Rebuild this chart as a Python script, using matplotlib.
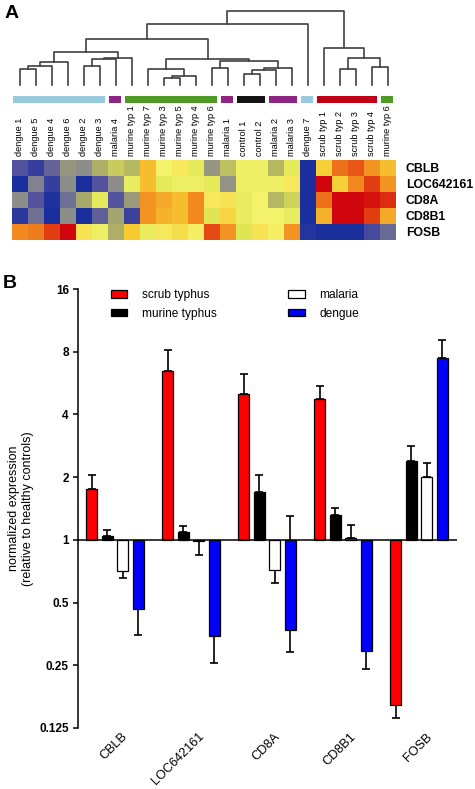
import numpy as np
import matplotlib.pyplot as plt
from matplotlib.colors import LinearSegmentedColormap
from matplotlib.patches import Patch

plt.rcParams['font.family'] = ['Liberation Sans', 'DejaVu Sans']

# ---------------- panel A data ----------------
samples = ['dengue 1', 'dengue 5', 'dengue 4', 'dengue 6', 'dengue 2', 'dengue 3', 'malaria 4',
           'murine typ 1', 'murine typ 7', 'murine typ 3', 'murine typ 5', 'murine typ 4',
           'murine typ 6', 'malaria 1', 'control 1', 'control 2', 'malaria 2', 'malaria 3',
           'dengue 7', 'scrub typ 1', 'scrub typ 2', 'scrub typ 3', 'scrub typ 4', 'murine typ 6']
genes = ['CBLB', 'LOC642161', 'CD8A', 'CD8B1', 'FOSB']

# standardized expression (-3 blue ... +3 red)
z_cblb = [-2.0, -2.5, -1.7, -0.8, -1.0, -0.3, 0.0, -0.2, 1.5, 0.7, 0.9, 0.4,
          -0.8, -0.1, 0.6, 0.6, -0.2, 0.4, -3.0, 1.3, 2.2, 2.4, 1.9, 1.5]
z_loc = [-3.0, -1.2, -2.5, -1.0, -3.0, -2.0, -1.0, 0.5, 1.5, 0.4, 0.6, 0.6,
         0.4, -0.9, 0.6, 0.6, 0.6, 0.9, -3.0, 3.0, 1.3, 2.0, 2.6, 1.9]
z_cd8a = [-1.0, -2.0, -2.9, -1.5, -0.4, 0.4, -2.0, -0.7, 1.9, 1.7, 1.5, 2.0,
          0.9, 1.0, 0.5, 0.7, -0.2, 0.1, -3.0, 2.2, 3.0, 3.0, 2.9, 2.7]
z_cd8b1 = [-2.7, -1.5, -3.0, -1.0, -3.0, -1.8, -0.5, -2.4, 1.9, 1.6, 1.5, 2.0,
           0.3, 1.2, 0.5, 0.7, 0.7, 0.5, -3.0, 1.6, 3.0, 3.0, 2.6, 1.7]
z_fosb = [2.0, 2.1, 2.6, 3.0, 1.0, 0.6, -0.3, 1.4, 0.5, 0.9, 1.1, 0.8,
          2.5, 1.9, 0.3, 1.0, 0.8, 1.9, -2.8, -3.0, -3.0, -3.0, -2.2, -1.6]

# dendrogram: (height, left, right), leaves are column indices
tree = (74,
        (61,
         (45.7,
          (32.7,
           (23, (19, (15.7, 0, 1), 2), 3),
           (26.7, (25.7, (19, 4, 5), 6), 7)),
          (25.7,
           (16, 8, (9, (6.7, 9, 10), 11)),
           (24, (17.3, 12, 13), (16.7, (15, (11, 14, 15), 16), 17)))),
         18),
        (36.7, 19, (26.7, (16, 20, 21), (17.7, 22, 23))))

group_colors = {'dengue': '#98CADD', 'malaria': '#8E2585', 'murine': '#4F9A25',
                'control': '#141414', 'scrub': '#BF0016'}

# ---------------- panel B data ----------------
bar_genes = ['CBLB', 'LOC642161', 'CD8A', 'CD8B1', 'FOSB']
series = ['scrub typhus', 'murine typhus', 'malaria', 'dengue']
scrub = [1.76, 6.43, 5.01, 4.72, 0.161]
murine = [1.04, 1.09, 1.69, 1.32, 2.40]
malaria = [0.71, 0.99, 0.718, 1.02, 2.01]
dengue = [0.466, 0.345, 0.371, 0.292, 7.50]
# error bar ends (low, high)
scrub_lo = [1.76, 6.43, 5.01, 4.72, 0.139]
scrub_hi = [2.04, 8.17, 6.25, 5.45, 0.161]
murine_lo = [1.04, 1.09, 1.69, 1.32, 2.40]
murine_hi = [1.11, 1.16, 2.05, 1.42, 2.81]
malaria_lo = [0.657, 0.85, 0.62, 1.02, 2.01]
malaria_hi = [0.71, 0.99, 0.718, 1.18, 2.34]
dengue_lo = [0.351, 0.256, 0.289, 0.240, 7.50]
dengue_hi = [0.466, 0.345, 1.30, 0.292, 9.12]
bar_colors = ['#FF0000', '#000000', '#FFFFFF', '#0000FF']

W, H = 475, 789
fig = plt.figure(figsize=(W / 100, H / 100), dpi=100)


def box(l, t, r, b):
    return [l / W, 1 - b / H, (r - l) / W, (b - t) / H]


cmap = LinearSegmentedColormap.from_list('hm', [
    (0.00, (0.10, 0.18, 0.62)),
    (0.15, (0.30, 0.30, 0.62)),
    (0.33, (0.55, 0.55, 0.55)),
    (0.45, (0.68, 0.68, 0.40)),
    (0.55, (0.88, 0.90, 0.33)),
    (0.62, (0.96, 0.95, 0.42)),
    (0.73, (0.97, 0.80, 0.20)),
    (0.83, (0.95, 0.55, 0.12)),
    (0.92, (0.90, 0.28, 0.08)),
    (1.00, (0.82, 0.02, 0.05))])

# dendrogram
ax_d = fig.add_axes(box(12, 11, 396, 85))


def draw_tree(ax, node):
    if isinstance(node, int):
        return node + 0.5, 0.0
    h, left, right = node
    xl, hl = draw_tree(ax, left)
    xr, hr = draw_tree(ax, right)
    ax.plot([xl, xl, xr, xr], [hl, h, h, hr], color='#404040', lw=1.2, clip_on=False)
    return (xl + xr) / 2, h


draw_tree(ax_d, tree)
ax_d.set_xlim(0, len(samples))
ax_d.set_ylim(0, 74)
ax_d.axis('off')

# group colour bar
ax_c = fig.add_axes(box(12, 96, 396, 103))
kinds = [s.split()[0] for s in samples]
start = 0
for i in range(1, len(kinds) + 1):
    if i == len(kinds) or kinds[i] != kinds[start]:
        ax_c.barh(0, i - start - 0.26, left=start + 0.06, height=1,
                  color=group_colors[kinds[start]], align='edge')
        start = i
ax_c.set_xlim(0, len(samples))
ax_c.set_ylim(0, 1)
ax_c.axis('off')

# heatmap
ax_h = fig.add_axes(box(12, 160, 396, 240))
data = np.array([z_cblb, z_loc, z_cd8a, z_cd8b1, z_fosb])
ax_h.pcolormesh(data, cmap=cmap, vmin=-3, vmax=3)
ax_h.set_xlim(0, len(samples))
ax_h.set_ylim(len(genes), 0)
ax_h.xaxis.tick_top()
ax_h.set_xticks(np.arange(len(samples)) + 0.5)
ax_h.set_xticklabels(samples, rotation=90, fontsize=6.6)
ax_h.yaxis.tick_right()
ax_h.set_yticks(np.arange(len(genes)) + 0.5)
ax_h.set_yticklabels(genes, fontsize=8.8, fontweight='bold')
ax_h.tick_params(length=0, pad=3)
ax_h.tick_params(axis='y', pad=7)
for s in ax_h.spines.values():
    s.set_visible(False)

fig.text(5 / W, 1 - 13 / H, 'A', fontsize=14, fontweight='bold', va='center', ha='left')
fig.text(3 / W, 1 - 283 / H, 'B', fontsize=14, fontweight='bold', va='center', ha='left')

# ---------------- panel B ----------------
ax = fig.add_axes(box(78, 289, 457, 728))
x = np.arange(len(bar_genes))
step, width = 0.205, 0.145
vals = [scrub, murine, malaria, dengue]
los = [scrub_lo, murine_lo, malaria_lo, dengue_lo]
his = [scrub_hi, murine_hi, malaria_hi, dengue_hi]
for k in range(4):
    xs = x + (k - 1.5) * step
    v = np.array(vals[k])
    lo, hi = np.array(los[k]), np.array(his[k])
    ax.errorbar(xs, v, yerr=[v - lo, hi - v], fmt='none', ecolor='black',
                elinewidth=1.2, capsize=3, capthick=1.2, zorder=2)
    ax.bar(xs, v - 1, bottom=1, width=width, color=bar_colors[k],
           edgecolor='black', linewidth=0.9, zorder=3)

ax.set_yscale('log', base=2)
yt = [0.125, 0.25, 0.5, 1, 2, 4, 8, 16]
ax.set_yticks(yt)
ax.set_yticklabels(['0.125', '0.25', '0.5', '1', '2', '4', '8', '16'],
                   fontsize=8.5, fontweight='bold')
ax.yaxis.set_minor_locator(plt.NullLocator())
ax.set_ylim(0.125, 16)
ax.set_xlim(-0.487, 4.5)
ax.axhline(1, color='black', lw=1.1, zorder=4)
for side in ['top', 'right', 'bottom']:
    ax.spines[side].set_visible(False)
ax.spines['left'].set_linewidth(1.1)
ax.tick_params(axis='y', length=3.6, width=1.1, pad=3)
ax.tick_params(axis='x', length=0, pad=2)
ax.set_xticks(x + 0.2)
ax.set_xticklabels(bar_genes, rotation=45, ha='right', fontsize=9.2)
ax.set_ylabel('normalized expression\n(relative to healthy controls)', fontsize=9,
              linespacing=1.2, labelpad=4)

handles = [Patch(facecolor=c, edgecolor='black', linewidth=0.9) for c in bar_colors]
ax.legend(handles, series, ncol=2, loc='upper left', bbox_to_anchor=(0.087, 1.0),
          frameon=False, fontsize=8.6, handlelength=1.35, handleheight=0.6,
          handletextpad=1.25, columnspacing=6.0, labelspacing=0.55,
          borderpad=0, borderaxespad=0)

fig.savefig('out.png', dpi=100)
